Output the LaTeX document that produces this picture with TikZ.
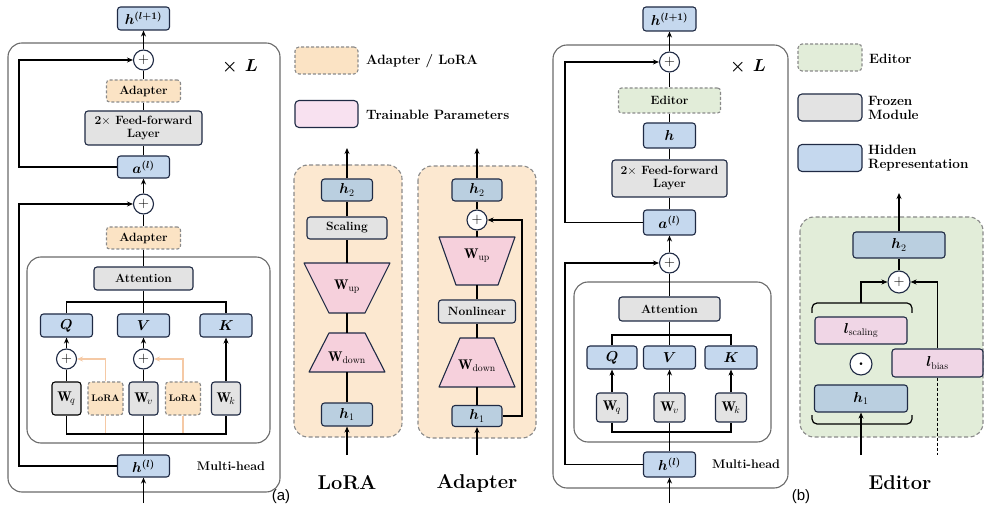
\documentclass[tikz,border=0pt]{standalone}
\usepackage{amsmath}
\usepackage{bm}
\usepackage{fontspec}
\usetikzlibrary{arrows.meta}
\newfontfamily\labfont{Liberation Sans}
\definecolor{navy}{HTML}{1F2A44}
\definecolor{hidblue}{HTML}{C5D8EE}
\definecolor{hidblueb}{HTML}{BACFE0}
\definecolor{frz}{HTML}{E3E3E3}
\definecolor{adp}{HTML}{FBE3C4}
\definecolor{adpbg}{HTML}{FCE8D0}
\definecolor{pnk}{HTML}{F6D0DC}
\definecolor{pnkb}{HTML}{F0D6E6}
\definecolor{pnkl}{HTML}{F8E1F0}
\definecolor{grn}{HTML}{E2EDD9}
\definecolor{dashgray}{HTML}{8A8A8A}
\definecolor{boxgray}{HTML}{6A6A6A}
\definecolor{orl}{HTML}{F5C9A5}
\begin{document}
\begin{tikzpicture}[x=1pt,y=-1pt,
  box/.style={draw=navy, line width=1.1pt, rounded corners=3pt, inner sep=0pt, align=center, font=\bfseries\fontsize{12}{13}\selectfont},
  mth/.style={font=\fontsize{14}{14}\selectfont},
  hid/.style={box, fill=hidblue},
  hidb/.style={box, fill=hidblueb},
  frozen/.style={box, fill=frz},
  adapt/.style={box, draw=dashgray, dash pattern=on 3pt off 2pt, fill=adp},
  trn/.style={box, fill=pnkb},
  plusc/.style={circle, draw=navy, line width=1.1pt, fill=white, minimum size=20pt, inner sep=0pt, font=\fontsize{14}{14}\selectfont},
  conn/.style={line width=1.2pt, black},
  arr/.style={conn, -{Stealth[length=6pt,width=5pt]}},
  orline/.style={line width=1.2pt, orl},
  orarr/.style={orline, -{Stealth[length=6pt,width=5pt]}},
  cont/.style={draw=boxgray, line width=1.1pt, rounded corners=14pt},
  panel/.style={draw=dashgray, line width=1.1pt, dash pattern=on 4pt off 2.5pt, rounded corners=14pt},
  trap/.style={draw=navy, line width=1.1pt, fill=pnk, line join=round},
  legtxt/.style={anchor=west, align=left, inner sep=0pt, font=\bfseries\fontsize{13.5}{14}\selectfont},
  bigtxt/.style={inner sep=0pt, font=\bfseries\fontsize{20}{22}\selectfont},
  mh/.style={inner sep=0pt, font=\bfseries\fontsize{12.5}{13}\selectfont}
]
\useasboundingbox (0,0) rectangle (985,518);

% ---------- containers ----------
\draw[cont] (8,43) rectangle (280,492);
\draw[cont] (27,257) rectangle (270,443);
\draw[cont] (553,45) rectangle (788,488);
\draw[cont] (574,282) rectangle (771,442);
\draw[panel, fill=adpbg] (294,165) rectangle (402,437);
\draw[panel, fill=adpbg] (418,166) rectangle (536,438);
\draw[panel, fill=grn] (800,217) rectangle (983,437);

% ---------- panel (a) ----------
\node[hid, mth, minimum width=52, minimum height=23] (ahout) at (143.5,18.5) {$\bm{h}^{\bm{(l+1)}}$};
\node[plusc] (ap1) at (143.5,60) {$+$};
\node[inner sep=0pt, font=\bfseries\fontsize{19}{19}\selectfont] (axl) at (240,67) {$\bm{\times}$ $\bm{L}$};
\node[adapt, minimum width=74, minimum height=22] (aad1) at (143.5,91) {Adapter};
\node[frozen, minimum width=117, minimum height=34] (affn) at (143.5,128) {2$\times$ Feed-forward\\Layer};
\node[hid, mth, minimum width=52, minimum height=22] (aa) at (143.5,167) {$\bm{a}^{\bm{(l)}}$};
\node[plusc] (ap2) at (143.5,204) {$+$};
\node[adapt, minimum width=74, minimum height=22] (aad2) at (143.5,238) {Adapter};
\node[frozen, minimum width=99, minimum height=23] (aatt) at (143.5,278.5) {Attention};
\node[hid, mth, minimum width=52, minimum height=23] (aq) at (66.5,325.5) {$\bm{Q}$};
\node[hid, mth, minimum width=52, minimum height=23] (av) at (143.5,325.5) {$\bm{V}$};
\node[hid, mth, minimum width=52, minimum height=23] (ak) at (226,325.5) {$\bm{K}$};
\node[plusc] (apq) at (66.5,359) {$+$};
\node[plusc] (apv) at (143.5,359) {$+$};
\node[frozen, mth, minimum width=29, minimum height=33, draw=black] (awq) at (66.5,398.5) {$\mathbf{W}_{\!q}$};
\node[frozen, mth, minimum width=29, minimum height=33] (awv) at (143.5,398.5) {$\mathbf{W}_{\!v}$};
\node[frozen, mth, minimum width=29, minimum height=33] (awk) at (226,398.5) {$\mathbf{W}_{\!k}$};
\node[adapt, minimum width=35, minimum height=33, font=\bfseries\fontsize{9.5}{10}\selectfont] (alora1) at (105.5,398.5) {LoRA};
\node[adapt, minimum width=35, minimum height=33, font=\bfseries\fontsize{9.5}{10}\selectfont] (alora2) at (183,398.5) {LoRA};
\node[hid, mth, minimum width=52, minimum height=22] (ahl) at (143.5,466) {$\bm{h}^{\bm{(l)}}$};
\node[mh] (amh) at (231,466) {Multi-head};
\node[inner sep=0pt, font=\labfont\fontsize{15}{16}\selectfont] (alab) at (281,497) {(a)};
\coordinate (ain) at (143.5,503);
\coordinate (aL1) at (19,60);
\coordinate (aL2) at (19,204);
\coordinate (abr) at (143.5,302);
\coordinate (abot) at (143.5,434);

\draw[arr] (ap1.north) -- (ahout.south);
\draw[conn] (aad1.north) -- (ap1.south);
\draw[conn] (affn.north) -- (aad1.south);
\draw[conn] (aa.north) -- (affn.south);
\draw[arr] (ap2.north) -- (aa.south);
\draw[conn] (aad2.north) -- (ap2.south);
\draw[conn] (aatt.north) -- (aad2.south);
\draw[arr] (aa.west) -| (aL1) -- (ap1.west);
\draw[arr] (ahl.west) -| (aL2) -- (ap2.west);
\draw[conn] (aq.north) |- (abr) -| (ak.north);
\draw[conn] (aatt.south) -- (av.north);
\draw[arr] (apq.north) -- (aq.south);
\draw[arr] (apv.north) -- (av.south);
\draw[arr] (awk.north) -- (ak.south);
\draw[conn] (awq.north) -- (apq.south);
\draw[conn] (awv.north) -- (apv.south);
\draw[orarr] (alora1.north) |- (apq.east);
\draw[orarr] (alora2.north) |- (apv.east);
\draw[orline] (alora1.south) -- (alora1.south |- abot);
\draw[orline] (alora2.south) -- (alora2.south |- abot);
\draw[conn] (awq.south) |- (abot) -| (awk.south);
\draw[conn] (ahl.north) -- (awv.south);
\draw[arr] (ain) -- (ahl.south);

% ---------- legend (a) ----------
\node[adapt, minimum width=63, minimum height=27, rounded corners=4pt] (lg1) at (326.5,60.5) {};
\node[legtxt] (lg1t) at (366,61) {Adapter / LoRA};
\node[box, fill=pnkl, minimum width=63, minimum height=27, rounded corners=4pt] (lg2) at (326.5,114) {};
\node[legtxt] (lg2t) at (366,115) {Trainable Parameters};

% ---------- LoRA panel ----------
\node[hidb, mth, minimum width=51, minimum height=22] (lh2) at (347,190) {$\bm{h}_2$};
\node[frozen, minimum width=80, minimum height=22] (lsc) at (347,228) {Scaling};
\filldraw[trap] (304,263) -- (390,263) -- (365,313) -- (329,313) -- cycle;
\filldraw[trap] (329,333) -- (365,333) -- (385,372) -- (309,372) -- cycle;
\node[inner sep=0pt, mth] (lupl) at (347,287) {$\mathbf{W}_{\mathrm{up}}$};
\node[inner sep=0pt, mth] (ldnl) at (347,358) {$\mathbf{W}_{\mathrm{down}}$};
\coordinate (lupT) at (347,263);
\coordinate (lupB) at (347,313);
\coordinate (ldnT) at (347,333);
\coordinate (ldnB) at (347,372);
\node[hidb, mth, minimum width=51, minimum height=23] (lh1) at (347,414.5) {$\bm{h}_1$};
\coordinate (lout) at (347,148);
\coordinate (lin) at (347,455);
\node[bigtxt] (llab) at (347,483) {LoRA};
\draw[arr] (lh2.north) -- (lout);
\draw[conn] (lsc.north) -- (lh2.south);
\draw[conn] (lupT) -- (lsc.south);
\draw[conn] (ldnT) -- (lupB);
\draw[conn] (lh1.north) -- (ldnB);
\draw[arr] (lin) -- (lh1.south);

% ---------- Adapter panel ----------
\node[hidb, mth, minimum width=50, minimum height=22] (dh2) at (477,190) {$\bm{h}_2$};
\node[plusc] (dp) at (477,220) {$+$};
\filldraw[trap] (439,237) -- (515,237) -- (498,285) -- (456,285) -- cycle;
\node[frozen, minimum width=77, minimum height=23] (dnl) at (477,311.5) {Nonlinear};
\filldraw[trap] (460,338) -- (494,338) -- (515,387) -- (439,387) -- cycle;
\node[inner sep=0pt, mth] (dupl) at (477,256) {$\mathbf{W}_{\mathrm{up}}$};
\node[inner sep=0pt, mth] (ddnl) at (477,366) {$\mathbf{W}_{\mathrm{down}}$};
\coordinate (dupT) at (477,237);
\coordinate (dupB) at (477,285);
\coordinate (ddnT) at (477,338);
\coordinate (ddnB) at (477,387);
\node[hidb, mth, minimum width=50, minimum height=21] (dh1) at (477,416) {$\bm{h}_1$};
\coordinate (dout) at (477,148);
\coordinate (din) at (477,455);
\coordinate (dR) at (522,220);
\node[bigtxt] (dlab) at (477,483) {Adapter};
\draw[arr] (dh2.north) -- (dout);
\draw[conn] (dp.north) -- (dh2.south);
\draw[conn] (dupT) -- (dp.south);
\draw[conn] (dnl.north) -- (dupB);
\draw[conn] (ddnT) -- (dnl.south);
\draw[conn] (dh1.north) -- (ddnB);
\draw[arr] (dh1.east) -| (dR) -- (dp.east);
\draw[arr] (din) -- (dh1.south);

% ---------- panel (b) ----------
\node[hid, mth, minimum width=53, minimum height=24] (bhout) at (669.5,19) {$\bm{h}^{\bm{(l+1)}}$};
\node[plusc] (bp1) at (669.5,62) {$+$};
\node[inner sep=0pt, font=\bfseries\fontsize{19}{19}\selectfont] (bxl) at (748,67) {$\bm{\times}$ $\bm{L}$};
\node[adapt, fill=grn, minimum width=102, minimum height=25] (bed) at (669.5,100.5) {Editor};
\node[hid, mth, minimum width=52, minimum height=25] (bh) at (669.5,135.5) {$\bm{h}$};
\node[frozen, minimum width=115, minimum height=37] (bffn) at (669.5,178.5) {2$\times$ Feed-forward\\Layer};
\node[hid, mth, minimum width=52, minimum height=25] (ba) at (669.5,222.5) {$\bm{a}^{\bm{(l)}}$};
\node[plusc] (bp2) at (669.5,263) {$+$};
\node[frozen, minimum width=101, minimum height=24] (batt) at (669.5,309) {Attention};
\node[hid, mth, minimum width=50, minimum height=23] (bq) at (612,357.5) {$\bm{Q}$};
\node[hid, mth, minimum width=52, minimum height=23] (bv) at (669.5,357.5) {$\bm{V}$};
\node[hid, mth, minimum width=52, minimum height=23] (bk) at (731,357.5) {$\bm{K}$};
\node[frozen, mth, minimum width=31, minimum height=29] (bwq) at (612,407.5) {$\mathbf{W}_{\!q}$};
\node[frozen, mth, minimum width=31, minimum height=29] (bwv) at (669.5,407.5) {$\mathbf{W}_{\!v}$};
\node[frozen, mth, minimum width=31, minimum height=29] (bwk) at (731,407.5) {$\mathbf{W}_{\!k}$};
\node[hid, mth, minimum width=52, minimum height=25] (bhl) at (669.5,464.5) {$\bm{h}^{\bm{(l)}}$};
\node[mh] (bmh) at (746,464) {Multi-head};
\node[inner sep=0pt, font=\labfont\fontsize{15}{16}\selectfont] (blab) at (801,497) {(b)};
\coordinate (bin) at (669.5,503);
\coordinate (bL1) at (565,62);
\coordinate (bL2) at (565,263);
\coordinate (bbr) at (669.5,335);
\coordinate (bbot) at (669.5,432);

\draw[arr] (bp1.north) -- (bhout.south);
\draw[conn] (bed.north) -- (bp1.south);
\draw[conn] (bh.north) -- (bed.south);
\draw[conn] (bffn.north) -- (bh.south);
\draw[conn] (ba.north) -- (bffn.south);
\draw[arr] (bp2.north) -- (ba.south);
\draw[conn] (batt.north) -- (bp2.south);
\draw[arr] (ba.west) -| (bL1) -- (bp1.west);
\draw[arr] (bhl.west) -| (bL2) -- (bp2.west);
\draw[conn] (bq.north) |- (bbr) -| (bk.north);
\draw[conn] (batt.south) -- (bv.north);
\draw[arr] (bwq.north) -- (bq.south);
\draw[arr] (bwv.north) -- (bv.south);
\draw[arr] (bwk.north) -- (bk.south);
\draw[conn] (bwq.south) |- (bbot) -| (bwk.south);
\draw[conn] (bhl.north) -- (bwv.south);
\draw[arr] (bin) -- (bhl.south);

% ---------- legend (b) ----------
\node[adapt, fill=grn, minimum width=64, minimum height=27, rounded corners=4pt] (lg3) at (830,57.5) {};
\node[legtxt] (lg3t) at (869,59) {Editor};
\node[frozen, minimum width=64, minimum height=27, rounded corners=4pt] (lg4) at (830,107.5) {};
\node[legtxt] (lg4t) at (868,107.5) {Frozen\\Module};
\node[hid, minimum width=64, minimum height=27, rounded corners=4pt] (lg5) at (830,158) {};
\node[legtxt] (lg5t) at (868,158) {Hidden\\Representation};

% ---------- Editor panel ----------
\node[hidb, mth, minimum width=92, minimum height=26] (eh2) at (899,245) {$\bm{h}_2$};
\node[plusc, minimum size=22pt] (ep) at (899,282) {$+$};
\node[trn, mth, minimum width=92, minimum height=27] (els) at (861,330.5) {$\bm{l}_{\mathrm{scaling}}$};
\node[plusc, minimum size=22pt, font=\bfseries\fontsize{16}{16}\selectfont] (eod) at (861,364) {$\bm{\cdot}$};
\node[trn, mth, minimum width=91, minimum height=28] (elb) at (937.5,363) {$\bm{l}_{\mathrm{bias}}$};
\node[hidb, mth, minimum width=93, minimum height=27] (eh1) at (861,398.5) {$\bm{h}_1$};
\node[bigtxt] (elab) at (900,483) {Editor};
\coordinate (eout) at (899,193);
\coordinate (ebt) at (861,303);
\coordinate (ein) at (861,455);
\coordinate (ebin) at (937.5,455);
\draw[conn, rounded corners=5pt] (812,313) -- (812,303) -- (912,303) -- (912,313);
\draw[conn, rounded corners=5pt] (812,415) -- (812,424) -- (912,424) -- (912,415);
\draw[arr] (eh2.north) -- (eout);
\draw[conn] (ep.north) -- (eh2.south);
\draw[arr] (ebt) |- (ep.west);
\draw[arr] (elb.north) |- (ep.east);
\draw[conn, dash pattern=on 3pt off 2pt] (elb.south) -- (ebin);
\draw[arr] (ein) -- (eh1.south);
\end{tikzpicture}
\end{document}
